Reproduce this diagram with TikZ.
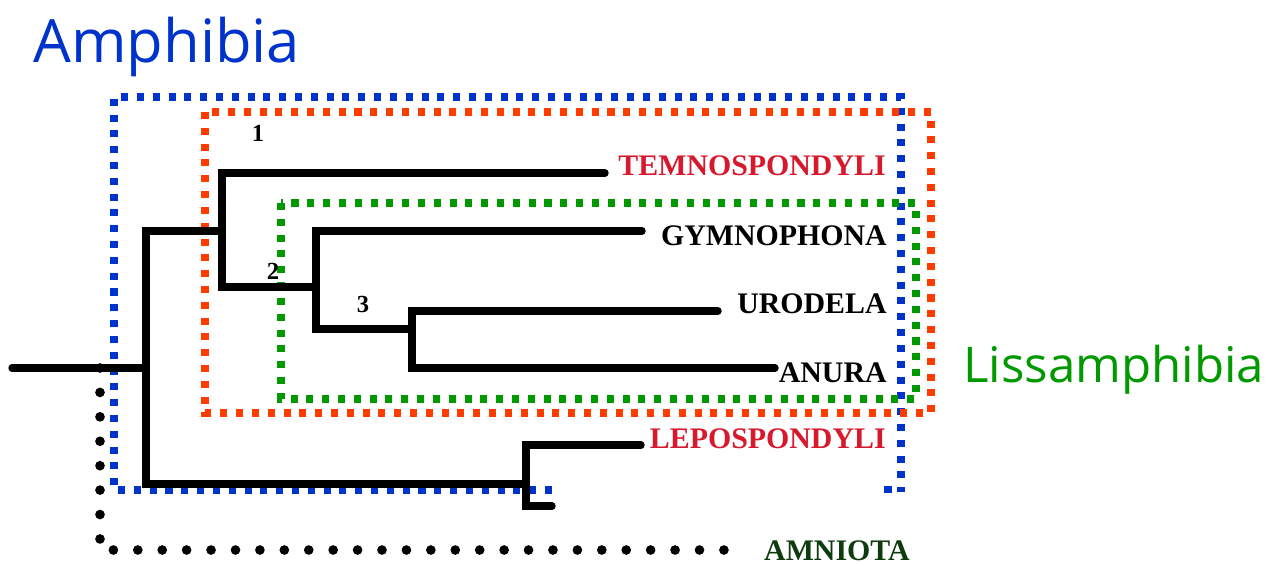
\documentclass[tikz,border=0pt]{standalone}
\usepackage{fontspec}
\setmainfont{Liberation Serif}
\newfontfamily\cladefont{Open Sans}
\usepackage{xcolor}

\definecolor{ampblue}{RGB}{0,51,204}
\definecolor{boxred}{RGB}{255,60,0}
\definecolor{taxred}{RGB}{215,25,45}
\definecolor{lissgreen}{RGB}{0,153,0}
\definecolor{amngreen}{RGB}{15,60,15}

\tikzset{
	branch/.style={line width=4.2pt,line cap=round,line join=miter},
	cladebox/.style={line width=4pt,dash pattern=on 4pt off 5pt},
	amniodots/.style={line width=5.5pt,line cap=round,dash pattern=on 0pt off 13.9pt},
	taxon/.style={anchor=east,inner sep=0pt,font=\bfseries\fontsize{17}{17}\selectfont},
	num/.style={inner sep=0pt,font=\bfseries\fontsize{14}{14}\selectfont},
	cladename/.style={anchor=base west,inner sep=0pt}
}

\begin{document}
\begin{tikzpicture}[x=0.02cm,y=-0.02cm]
						\useasboundingbox (0,0) rectangle (1284,565);
						% tree points
						\coordinate (root) at (12,368);
						\coordinate (amph) at (146,368);
						\coordinate (n1) at (222,231);
						\coordinate (n2) at (316,287);
						\coordinate (n3) at (412,329);
						\coordinate (n4) at (526,484);
						\coordinate (temno) at (605,173);
						\coordinate (gymno) at (642,231);
						\coordinate (urod) at (718,311);
						\coordinate (anura) at (775,368);
						\coordinate (lepo) at (641,445);
						\coordinate (stub) at (552,506);
						% boxes
						\draw [cladebox,ampblue] (552,490) -- (114,490) -- (114,97) -- (901,97) -- (901,492);
						\draw [cladebox,ampblue] (888,486) -- (888,500);
						\draw [cladebox,boxred] (205,112) rectangle (931,413);
						\draw [cladebox,lissgreen] (281,203) rectangle (916,399);
						\draw [amniodots] (100,368) -- (100,550) -- (735,550);
						% branches
						\draw [branch] (root) -- (amph);
						\draw [branch] (n1) -| (amph) |- (n4);
						\draw [branch] (temno) -| (n1) |- (n2);
						\draw [branch] (gymno) -| (n2) |- (n3);
						\draw [branch] (urod) -| (n3) |- (anura);
						\draw [branch] (lepo) -| (n4) |- (stub);
						% labels
						\node [taxon,taxred] (temnolab) at (886,166) {TEMNOSPONDYLI};
						\node [taxon] (gymnolab) at (887,236) {GYMNOPHONA};
						\node [taxon] (urodlab) at (887,304) {URODELA};
						\node [taxon] (anuralab) at (887,373) {ANURA};
						\node [taxon,taxred] (lepolab) at (886,439) {LEPOSPONDYLI};
						\node [taxon,amngreen] (amniolab) at (910,551) {AMNIOTA};
						\node [num] (one) at (258,133) {1};
						\node [num] (two) at (273,271) {2};
						\node [num] (three) at (363,304) {3};
						\node [cladename,ampblue,font=\cladefont\fontsize{34}{34}\selectfont] (amphlab) at (33,62) {Amphibia};
						\node [cladename,lissgreen,font=\cladefont\fontsize{28}{28}\selectfont] (lisslab) at (963,382) {Lissamphibia};
					\end{tikzpicture}
\end{document}
